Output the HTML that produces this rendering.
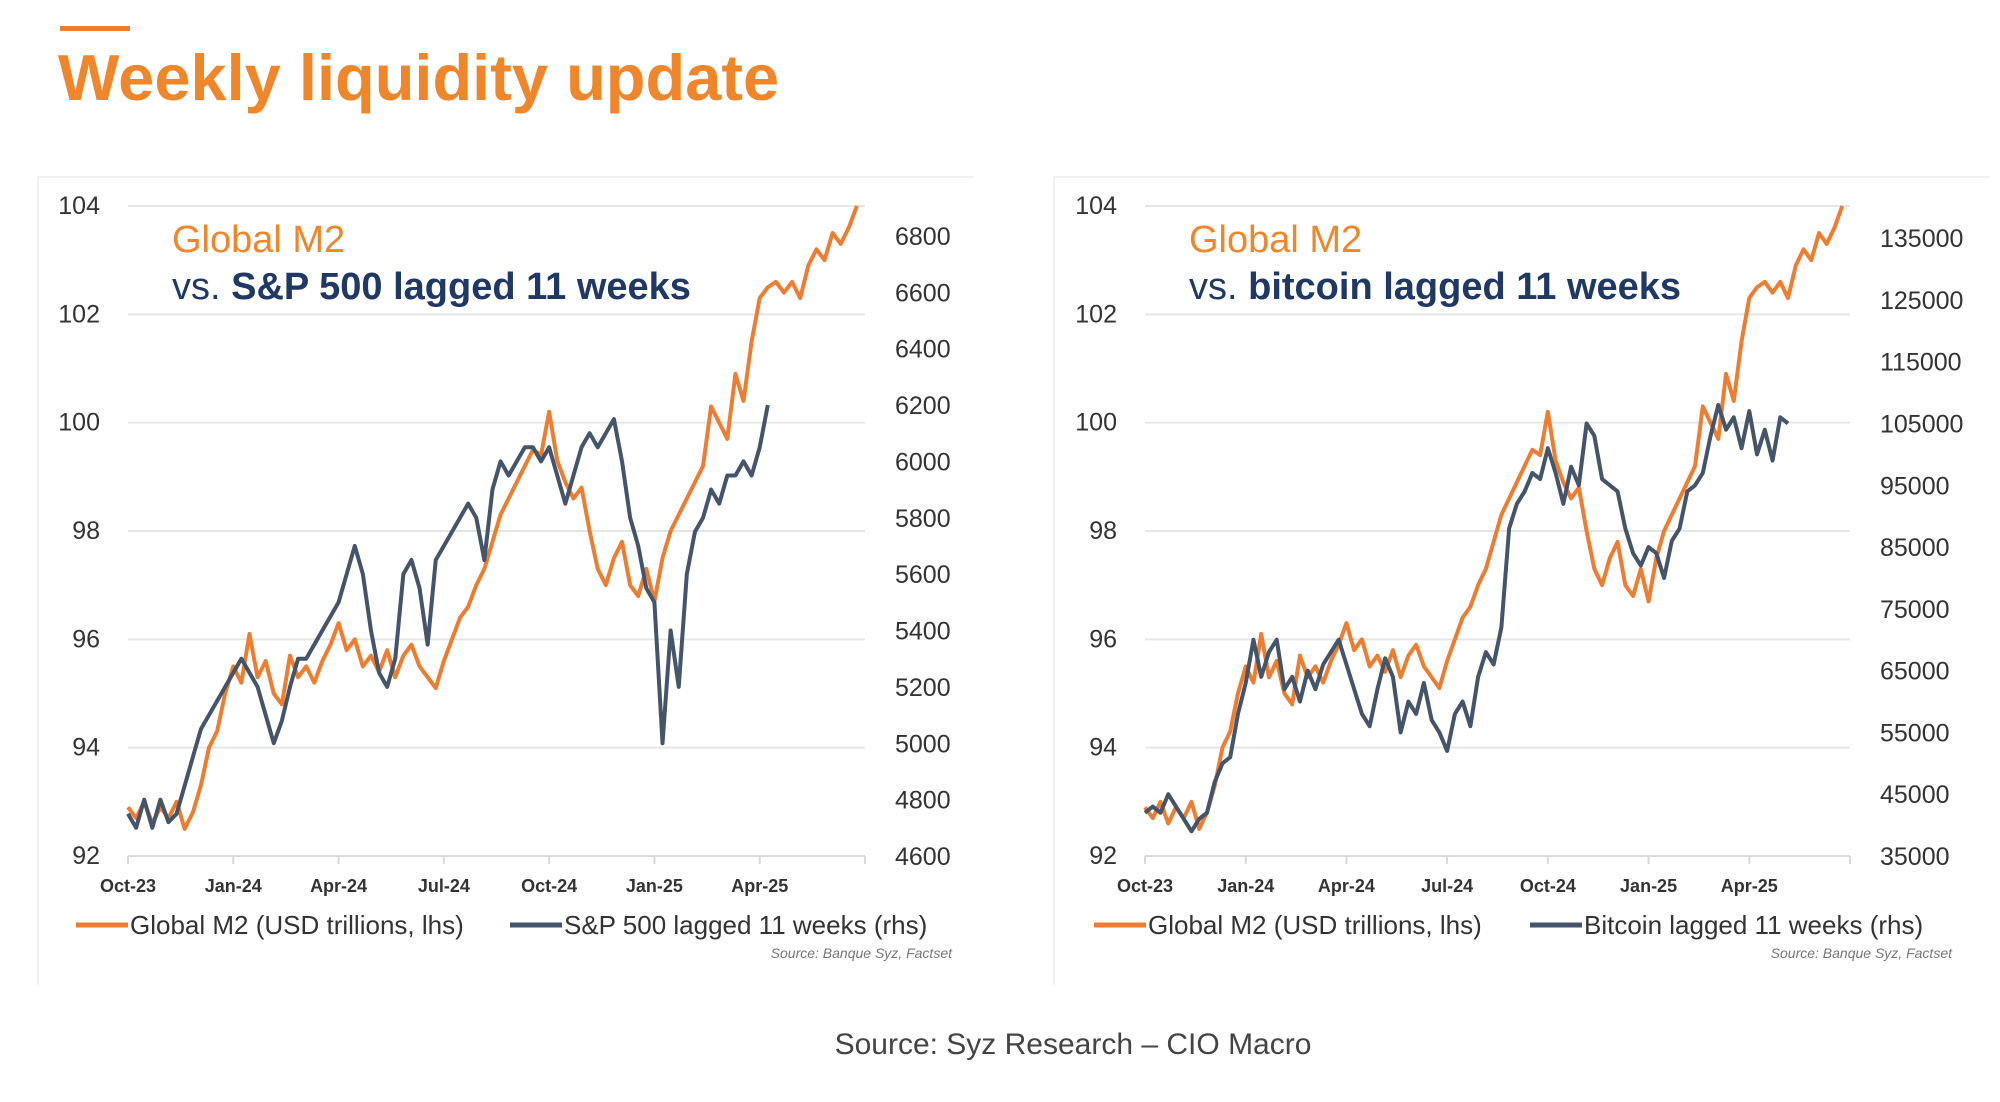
<!DOCTYPE html>
<html><head><meta charset="utf-8"><style>
body{margin:0;background:#fff;width:2000px;height:1097px;overflow:hidden;font-family:"Liberation Sans",sans-serif}
</style></head><body>
<svg id="s" width="2000" height="1097" viewBox="0 0 2000 1097" xmlns="http://www.w3.org/2000/svg">
<rect x="60" y="26" width="70" height="5" fill="#ed7d31"/>
<text x="58" y="100" font-size="65" font-weight="bold" fill="#f0862a">Weekly liquidity update</text>
<path d="M38 985 V177 H974" fill="none" stroke="#f0f0f0" stroke-width="2"/>
<path d="M1054 985 V177 H1990" fill="none" stroke="#f0f0f0" stroke-width="2"/>
<text x="1073" y="1054" font-size="30" fill="#444" text-anchor="middle">Source: Syz Research – CIO Macro</text>
<g id="c1"></g>
<g id="c2"></g>
</svg>
<script>
const xTickLabels=["Oct-23","Jan-24","Apr-24","Jul-24","Oct-24","Jan-25","Apr-25"];
const leftTicks=[92,94,96,98,100,102,104];
const spTicks=[4600,4800,5000,5200,5400,5600,5800,6000,6200,6400,6600,6800];
const btcTicks=[35000,45000,55000,65000,75000,85000,95000,105000,115000,125000,135000];
const m2=[92.9,92.7,93.0,92.6,92.9,92.7,93.0,92.5,92.8,93.3,94.0,94.3,95.0,95.5,95.2,96.1,95.3,95.6,95.0,94.8,95.7,95.3,95.5,95.2,95.6,95.9,96.3,95.8,96.0,95.5,95.7,95.4,95.8,95.3,95.7,95.9,95.5,95.3,95.1,95.6,96.0,96.4,96.6,97.0,97.3,97.8,98.3,98.6,98.9,99.2,99.5,99.4,100.2,99.3,98.9,98.6,98.8,98.0,97.3,97.0,97.5,97.8,97.0,96.8,97.3,96.7,97.5,98.0,98.3,98.6,98.9,99.2,100.3,100.0,99.7,100.9,100.4,101.5,102.3,102.5,102.6,102.4,102.6,102.3,102.9,103.2,103.0,103.5,103.3,103.6,104.0];
const sp=[4750,4700,4800,4700,4800,4720,4750,4850,4950,5050,5100,5150,5200,5250,5300,5250,5200,5100,5000,5080,5200,5300,5300,5350,5400,5450,5500,5600,5700,5600,5400,5250,5200,5300,5600,5650,5550,5350,5650,5700,5750,5800,5850,5800,5650,5900,6000,5950,6000,6050,6050,6000,6050,5950,5850,5950,6050,6100,6050,6100,6150,6000,5800,5700,5550,5500,5000,5400,5200,5600,5750,5800,5900,5850,5950,5950,6000,5950,6050,6200];
const btc=[42000,43000,42000,45000,43000,41000,39000,41000,42000,47000,50000,51000,58000,63000,70000,64000,68000,70000,62000,64000,60000,65000,62000,66000,68000,70000,66000,62000,58000,56000,62000,67000,64000,55000,60000,58000,63000,57000,55000,52000,58000,60000,56000,64000,68000,66000,72000,88000,92000,94000,97000,96000,101000,97000,92000,98000,95000,105000,103000,96000,95000,94000,88000,84000,82000,85000,84000,80000,86000,88000,94000,95000,97000,103000,108000,104000,106000,101000,107000,100000,104000,99000,106000,105000];
const NW=91;
function el(p,tag,attrs){const e=document.createElementNS("http://www.w3.org/2000/svg",tag);for(const k in attrs)e.setAttribute(k,attrs[k]);p.appendChild(e);return e;}
function draw(g,o){
 const x=w=>o.x0+(o.x1-o.x0)*w/NW;
 const yL=v=>856-(v-92)/12*650;
 const yR=v=>856-(v-o.rmin)/(o.rmax-o.rmin)*650;
 leftTicks.forEach(v=>{
  const l=el(g,"line",{x1:o.x0,x2:o.x1,y1:yL(v),y2:yL(v),stroke:v==92?"#d9d9d9":"#e6e6e6","stroke-width":2});
  
  
  const t=el(g,"text",{x:o.x0-28,y:yL(v)+8,"font-size":25,fill:"#333","text-anchor":"end"});t.textContent=v;
  
  
 });
 o.rt.forEach(v=>{
  const t=el(g,"text",{x:o.x1+30,y:yR(v)+9,"font-size":25,fill:"#333"});t.textContent=v;
  
  
 });
 xTickLabels.forEach((s,i)=>{
  const xx=x(i*13);
  el(g,"line",{x1:xx,x2:xx,y1:856,y2:864,stroke:"#d9d9d9","stroke-width":2});
  const t=el(g,"text",{x:xx,y:892,"font-size":18,fill:"#333","text-anchor":"middle","font-weight":"bold"});t.textContent=s;
  
  
 });
 el(g,"line",{x1:o.x1,x2:o.x1,y1:856,y2:864,stroke:"#d9d9d9","stroke-width":2});
 const p1=el(g,"polyline",{points:m2.map((v,i)=>x(i)+","+yL(v)).join(" "),fill:"none",stroke:"#ed7d31","stroke-width":4,"stroke-linejoin":"round"});
 
 
 const p2=el(g,"polyline",{points:o.data.map((v,i)=>x(i)+","+yR(v)).join(" "),fill:"none",stroke:"#44546a","stroke-width":4,"stroke-linejoin":"round"});
 
 
 const t1=el(g,"text",{x:o.x0+44,y:252,"font-size":38,fill:"#f0862a"});t1.textContent="Global M2";
 
 
 const t2=el(g,"text",{x:o.x0+44,y:299,"font-size":38,fill:"#1f3864"});t2.innerHTML='vs. <tspan font-weight="bold">'+o.title+'</tspan>';
 
 
 const ly=925;
 el(g,"line",{x1:o.lx,x2:o.lx+52,y1:ly,y2:ly,stroke:"#ed7d31","stroke-width":5});
 const l1=el(g,"text",{x:o.lx+54,y:ly+9,"font-size":26,fill:"#333"});l1.textContent="Global M2 (USD trillions, lhs)";
 
 
 el(g,"line",{x1:o.lx2,x2:o.lx2+52,y1:ly,y2:ly,stroke:"#44546a","stroke-width":5});
 const l2=el(g,"text",{x:o.lx2+54,y:ly+9,"font-size":26,fill:"#333"});l2.textContent=o.leg;
 
 
 const sr=el(g,"text",{x:o.srcx,y:958,"font-size":14,fill:"#777","font-style":"italic","text-anchor":"end"});sr.textContent="Source: Banque Syz, Factset";
 
 
}
draw(document.getElementById("c1"),{x0:128,x1:865,rmin:4600,rmax:6906,rt:spTicks,data:sp,name:"sp500",title:"S&amp;P 500 lagged 11 weeks",leg:"S&P 500 lagged 11 weeks (rhs)",lx:76,lx2:510,srcx:952});
draw(document.getElementById("c2"),{x0:1145,x1:1850,rmin:35000,rmax:140200,rt:btcTicks,data:btc,name:"bitcoin",title:"bitcoin lagged 11 weeks",leg:"Bitcoin lagged 11 weeks (rhs)",lx:1094,lx2:1530,srcx:1952});
</script>
</body></html>
